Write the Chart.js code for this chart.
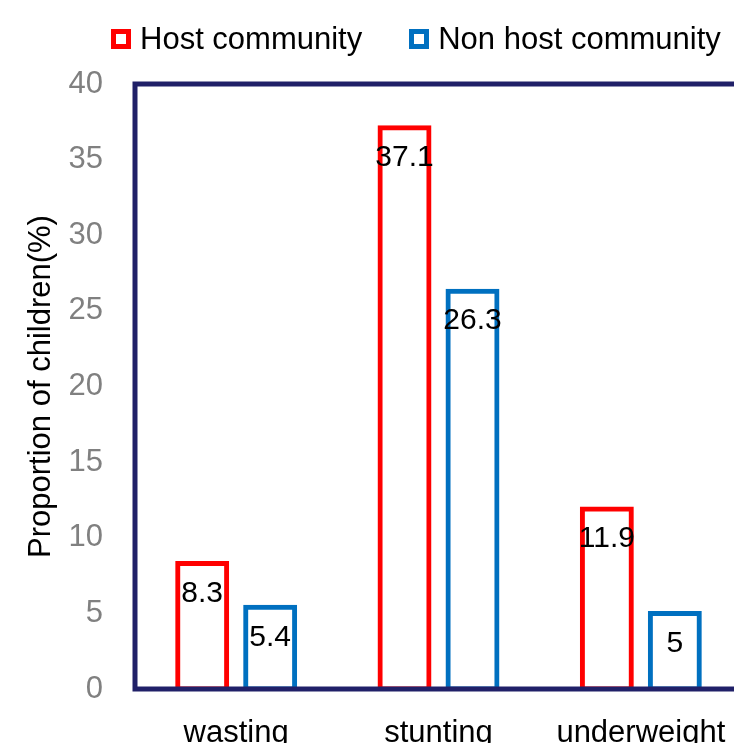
<!DOCTYPE html>
<html>
<head>
<meta charset="utf-8">
<script src="https://cdn.jsdelivr.net/npm/chart.js@4"></script>
<style>
  html, body { margin: 0; padding: 0; background: #fff; overflow: hidden; }
  #wrap { position: absolute; left: 0; top: 0; width: 830px; height: 780px; }
  #legend { position: absolute; left: 111px; top: 21px; display: flex; align-items: center;
            font-family: "Liberation Sans", Arial, sans-serif; font-size: 31px; color: #000; }
  .item { display: flex; align-items: center; margin-right: 47px; }
  .box { width: 20px; height: 20px; box-sizing: border-box; border: 5px solid; background: #fff; margin-right: 9px; }
</style>
</head>
<body>
<div id="wrap">
  <canvas id="graph1" width="830" height="780"></canvas>
  <div id="legend"></div>
</div>
<script>
// valores
const categories = ['wasting', 'stunting', 'underweight'];
const hostValues = [8.3, 37.1, 11.9];
const nonHostValues = [5.4, 26.3, 5];
const seriesNames = ['Host community', 'Non host community'];

const FONT = '"Liberation Sans", Arial, sans-serif';

// moldura azul escura em volta da area do grafico
const framePlugin = {
    id: 'frame',
    afterDatasetsDraw(chart) {
        const {ctx, chartArea: a} = chart;
        ctx.save();
        ctx.strokeStyle = '#202068';
        ctx.lineWidth = 5;
        ctx.strokeRect(a.left, a.top, a.right - a.left + 20, a.bottom - a.top);
        ctx.restore();
    }
};

// rotulos com os valores dentro das barras
const valueLabels = {
    id: 'valueLabels',
    afterDatasetsDraw(chart) {
        const ctx = chart.ctx;
        ctx.save();
        ctx.font = '30px ' + FONT;
        ctx.fillStyle = '#000';
        ctx.textAlign = 'center';
        ctx.textBaseline = 'middle';
        chart.data.datasets.forEach((ds, i) => {
            chart.getDatasetMeta(i).data.forEach((bar, j) => {
                ctx.fillText(String(ds.data[j]), bar.x, bar.y + 30);
            });
        });
        ctx.restore();
    }
};

// legenda em html
const htmlLegend = {
    id: 'htmlLegend',
    afterUpdate(chart) {
        const box = document.getElementById('legend');
        box.innerHTML = '';
        const items = chart.options.plugins.legend.labels.generateLabels(chart);
        items.forEach(item => {
            const el = document.createElement('div');
            el.className = 'item';
            const sw = document.createElement('span');
            sw.className = 'box';
            sw.style.borderColor = item.strokeStyle;
            const txt = document.createElement('span');
            txt.textContent = item.text;
            el.appendChild(sw);
            el.appendChild(txt);
            box.appendChild(el);
        });
    }
};

const config = {
    type: 'bar',
    data: {
        labels: categories,
        datasets: [
            {
                label: seriesNames[0],
                data: hostValues,
                borderColor: '#ff0000',
                backgroundColor: '#ffffff',
                borderWidth: 5,
                borderSkipped: false,
                inflateAmount: 2.5,
            },
            {
                label: seriesNames[1],
                data: nonHostValues,
                borderColor: '#0070c0',
                backgroundColor: '#ffffff',
                borderWidth: 5,
                borderSkipped: false,
                inflateAmount: 2.5,
            }
        ]
    },
    options: {
        responsive: false,
        animation: false,
        categoryPercentage: 0.672,
        barPercentage: 0.72,
        layout: { padding: { top: 84, left: 0, right: 0, bottom: 0 } },
        scales: {
            x: {
                grid: { display: false, drawTicks: false },
                border: { display: false },
                ticks: {
                    color: '#000',
                    padding: 26,
                    font: { family: FONT, size: 31 },
                    maxRotation: 0,
                },
                afterFit(scale) { scale.height = 91; }
            },
            y: {
                min: 0,
                max: 40,
                grid: { display: false, drawTicks: false },
                border: { display: false },
                title: {
                    display: true,
                    text: 'Proportion of children(%)',
                    color: '#000',
                    font: { family: FONT, size: 31 },
                    padding: { top: 23, bottom: 0 },
                },
                ticks: {
                    stepSize: 5,
                    color: '#808080',
                    padding: 32,
                    font: { family: FONT, size: 31 },
                },
                afterFit(scale) { scale.width = 135; }
            },
            y2: {
                position: 'right',
                display: true,
                grid: { display: false, drawTicks: false },
                border: { display: false },
                ticks: { display: false },
                afterFit(scale) { scale.width = 88; }
            }
        },
        plugins: {
            legend: { display: false },
            tooltip: { enabled: false },
        }
    },
    plugins: [framePlugin, valueLabels, htmlLegend]
};

const chart = new Chart(document.getElementById('graph1'), config);
</script>
</body>
</html>
